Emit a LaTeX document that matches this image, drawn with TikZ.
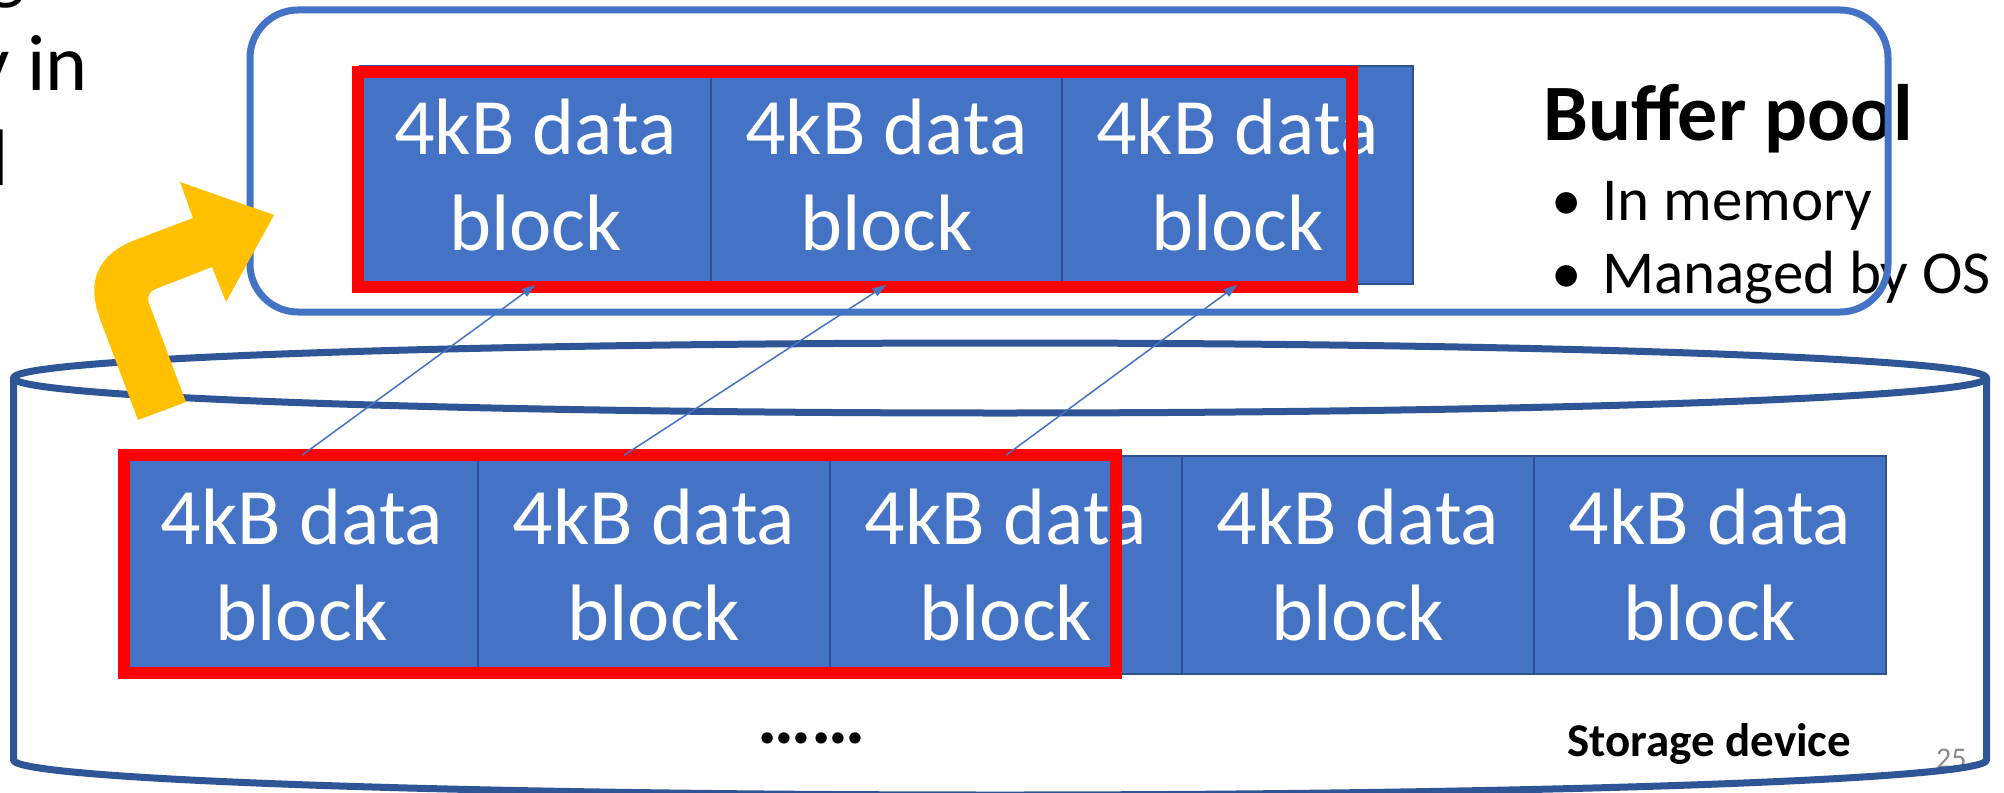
\documentclass[tikz,border=0pt]{standalone}
\usepackage{fontspec}
\setmainfont{Carlito}
\usetikzlibrary{arrows.meta}
\definecolor{blockblue}{HTML}{4472C4}
\definecolor{blockedge}{HTML}{2F528F}
\definecolor{cylblue}{HTML}{2F5597}
\definecolor{arrowyellow}{HTML}{FFC000}
\definecolor{pagegray}{HTML}{898989}

\begin{document}
\begin{tikzpicture}[x=1pt,y=-1pt,
  datablock/.style={draw=blockedge, line width=1.5pt, fill=blockblue, text=white,
    align=center, inner sep=0pt, minimum height=218pt,
    font=\fontsize{80}{96}\selectfont},
  redframe/.style={draw=red, line width=12pt, inner sep=0pt},
  poolbox/.style={draw=blockblue, line width=7pt, rounded corners=48pt, inner sep=0pt},
  cyl/.style={draw=cylblue, line width=7pt, line join=round},
  conn/.style={draw=blockblue, line width=1.5pt, -{Triangle[length=14pt,width=9pt]}},
  bigtext/.style={inner sep=0pt, font=\fontsize{80}{96}\selectfont},
  bullettext/.style={inner sep=0pt, anchor=base west, font=\fontsize{61}{73}\selectfont},
  smallbold/.style={inner sep=0pt, font=\bfseries\fontsize{47}{56}\selectfont}]
\useasboundingbox (0,0) rectangle (2004,792);
\clip (0,0) rectangle (2004,792);

% page number, partly under the storage outline
\node[inner sep=0pt, anchor=base west, text=pagegray, font=\fontsize{30}{36}\selectfont] (pagenum) at (1936,768) {25};

% storage device cylinder
\draw[cyl] (13.5,378) -- (13.5,760) arc[start angle=180, end angle=360, x radius=986.5pt, y radius=35pt] -- (1986.5,378);
\draw[cyl] (1000,378) ellipse[x radius=986.5pt, y radius=35pt];

\node[inner sep=0pt, anchor=base, font=\bfseries\fontsize{76}{90}\selectfont] (dots) at (812,743) {……};
\node[smallbold, anchor=base west] (storage) at (1567,756) {Storage device};

% blocks on the device
\node[datablock, minimum width=352pt] (b1) at (302,565) {4kB data\\block};
\node[datablock, minimum width=352pt] (b2) at (654,565) {4kB data\\block};
\node[datablock, minimum width=352pt] (b3) at (1006,565) {4kB data\\block};
\node[datablock, minimum width=352pt] (b4) at (1358,565) {4kB data\\block};
\node[datablock, minimum width=352pt] (b5) at (1710,565) {4kB data\\block};
\node[redframe, minimum width=992pt, minimum height=217.5pt] (readset) at (620,564) {};

% left-hand text fragments
\node[bigtext, anchor=base east] (fraga) at (25,-5) {g};
\node[bigtext, anchor=base east] (fragb) at (88,90) {y in};
\node[bigtext, anchor=base east] (fragc) at (9,185) {l};

% buffer pool description
\node[inner sep=0pt, anchor=base west, font=\bfseries\fontsize{80}{96}\selectfont] (bptitle) at (1543,140) {Buffer pool};
\node[bullettext] (bul1) at (1551,220) {•};
\node[bullettext] (item1) at (1602,220) {In memory};
\node[bullettext] (bul2) at (1551,293) {•};
\node[bullettext] (item2) at (1602,293) {Managed by OS};

% buffer pool in memory
\node[poolbox, minimum width=1638pt, minimum height=302pt] (pool) at (1069,161) {};
\node[datablock, minimum width=351pt] (t1) at (535.5,175) {4kB data\\block};
\node[datablock, minimum width=351pt] (t2) at (886.5,175) {4kB data\\block};
\node[datablock, minimum width=351pt] (t3) at (1237.5,175) {4kB data\\block};
\node[redframe, minimum width=994pt, minimum height=215pt] (loadset) at (855,179.5) {};

% bent arrow from the device up into memory
\fill[arrowyellow] (138,420) -- (100,319) .. controls (86,281) and (97.7,254.7) .. (135,240)
  -- (193,218) -- (180,182) -- (274,215) -- (226,302) -- (212,267)
  -- (156.3,288.7) .. controls (148.8,291.6) and (146.5,296.7) .. (149.3,304.2)
  -- (186,402) -- cycle;

% block copies
\draw[conn] (b1.north) -- (t1.south);
\draw[conn] ([xshift=-30pt]b2.north) -- (t2.south);
\draw[conn] (b3.north) -- (t3.south);
\end{tikzpicture}
\end{document}
